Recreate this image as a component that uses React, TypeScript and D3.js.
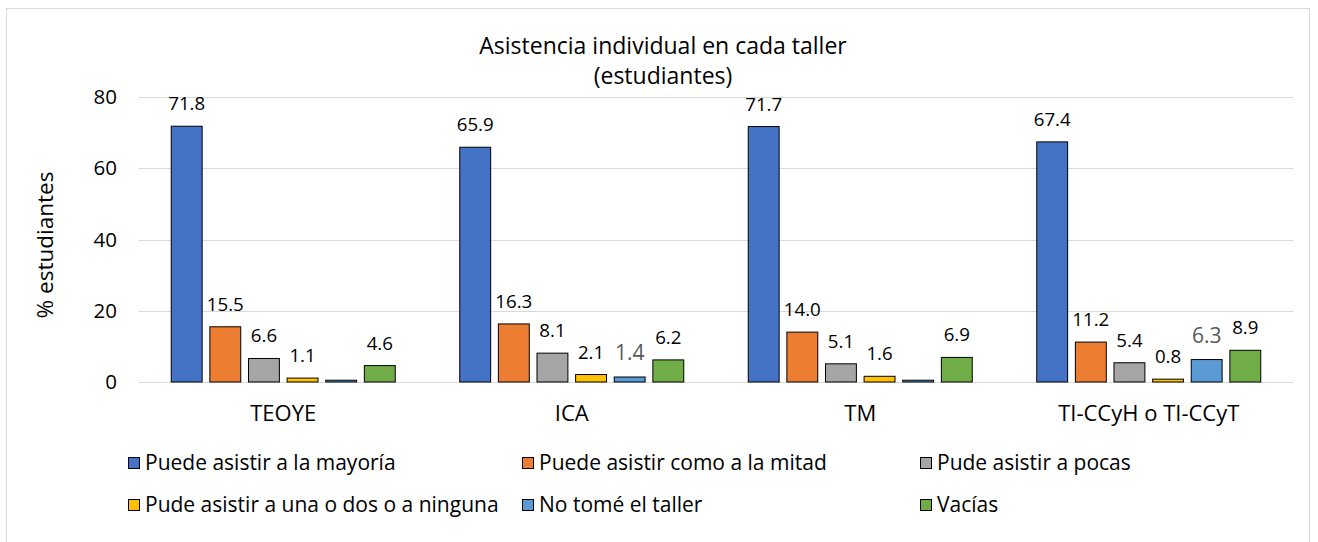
import React from "react";
import * as d3 from "d3";

const categories = ["TEOYE", "ICA", "TM", "TI-CCyH o TI-CCyT"];
const seriesNames = [
  "Puede asistir a la mayoría",
  "Puede asistir como a la mitad",
  "Pude asistir a pocas",
  "Pude asistir a una o dos o a ninguna",
  "No tomé el taller",
  "Vacías",
];
const seriesColors = ["#4472C4", "#ED7D31", "#A5A5A5", "#FFC000", "#5B9BD5", "#70AD47"];
// values[series][category]
const mayoria = [71.8, 65.9, 71.7, 67.4];
const mitad = [15.5, 16.3, 14.0, 11.2];
const pocas = [6.6, 8.1, 5.1, 5.4];
const ninguna = [1.1, 2.1, 1.6, 0.8];
const noTome = [0.5, 1.4, 0.5, 6.3];
const vacias = [4.6, 6.2, 6.9, 8.9];
const seriesValues = [mayoria, mitad, pocas, ninguna, noTome, vacias];
// labels shown above bars ("" = no label)
const noTomeLabels = ["", "1.4", "", "6.3"];
const yTicks = [0, 20, 40, 60, 80];

const W = 1318;
const H = 542;
const FONT = "'Open Sans', sans-serif";

export default function App() {
  const x0 = d3.scaleBand<string>().domain(categories).range([139, 1293]).padding(0);
  const x1 = d3
    .scaleBand<number>()
    .domain(d3.range(seriesNames.length))
    .range([32.25, x0.bandwidth() - 32.25])
    .paddingInner(0.2)
    .paddingOuter(0);
  const y = d3.scaleLinear().domain([0, 80]).range([382, 97]);

  const labelFor = (s: number, c: number) => {
    if (s === 4) return noTomeLabels[c];
    return seriesValues[s][c].toFixed(1);
  };

  const legendCols = [128, 522, 920];
  const legendRows = [463, 505];

  return (
    <svg
      width={W}
      height={H}
      style={{ position: "absolute", left: 0, top: 0, background: "#fff" }}
      fontFamily={FONT}
    >
      <rect x={6.5} y={8.5} width={1303} height={545} fill="#fff" stroke="#d9d9d9" strokeWidth={1} />
      <text x={663} y={54} textAnchor="middle" fontSize={23} fill="#000">
        Asistencia individual en cada taller
      </text>
      <text x={663} y={84} textAnchor="middle" fontSize={23} fill="#000">
        (estudiantes)
      </text>

      {yTicks.map((t) => (
        <g key={t}>
          <line x1={139} x2={1293} y1={Math.round(y(t)) + 0.5} y2={Math.round(y(t)) + 0.5} stroke="#d9d9d9" strokeWidth={1} />
          <text x={117} y={y(t)} dy="0.35em" textAnchor="end" fontSize={20.5} fill="#000">
            {t}
          </text>
        </g>
      ))}

      <text
        transform={`translate(45,245) rotate(-90)`}
        textAnchor="middle"
        dy="0.35em"
        fontSize={22.5}
        fill="#000"
      >
        % estudiantes
      </text>

      {categories.map((cat, c) => (
        <g key={cat} transform={`translate(${x0(cat)},0)`}>
          {seriesValues.map((vals, s) => {
            const v = vals[c];
            const bx = x1(s)!;
            const bw = x1.bandwidth();
            const top = y(v);
            const lab = labelFor(s, c);
            const gray = s === 4;
            return (
              <g key={s}>
                <rect
                  x={bx}
                  y={top}
                  width={bw}
                  height={y(0) - top}
                  fill={seriesColors[s]}
                  stroke="#000"
                  strokeWidth={1}
                />
                {lab !== "" && (
                  <text
                    x={bx + bw / 2}
                    y={top - (gray ? 17 : 16)}
                    textAnchor="middle"
                    fontSize={gray ? 21 : 18.7}
                    fill={gray ? "#595959" : "#000"}
                  >
                    {lab}
                  </text>
                )}
              </g>
            );
          })}
          <text x={x0.bandwidth() / 2} y={421} textAnchor="middle" fontSize={22} fill="#000">
            {cat}
          </text>
        </g>
      ))}

      {seriesNames.map((name, i) => {
        const col = i % 3;
        const row = Math.floor(i / 3);
        const lx = legendCols[col];
        const ly = legendRows[row];
        return (
          <g key={name}>
            <rect x={lx + 0.5} y={ly - 6 + 0.5} width={11} height={11} fill={seriesColors[i]} stroke="#000" strokeWidth={1} />
            <text x={lx + 17} y={ly} dy="0.35em" fontSize={21} fill="#000">
              {name}
            </text>
          </g>
        );
      })}
    </svg>
  );
}
